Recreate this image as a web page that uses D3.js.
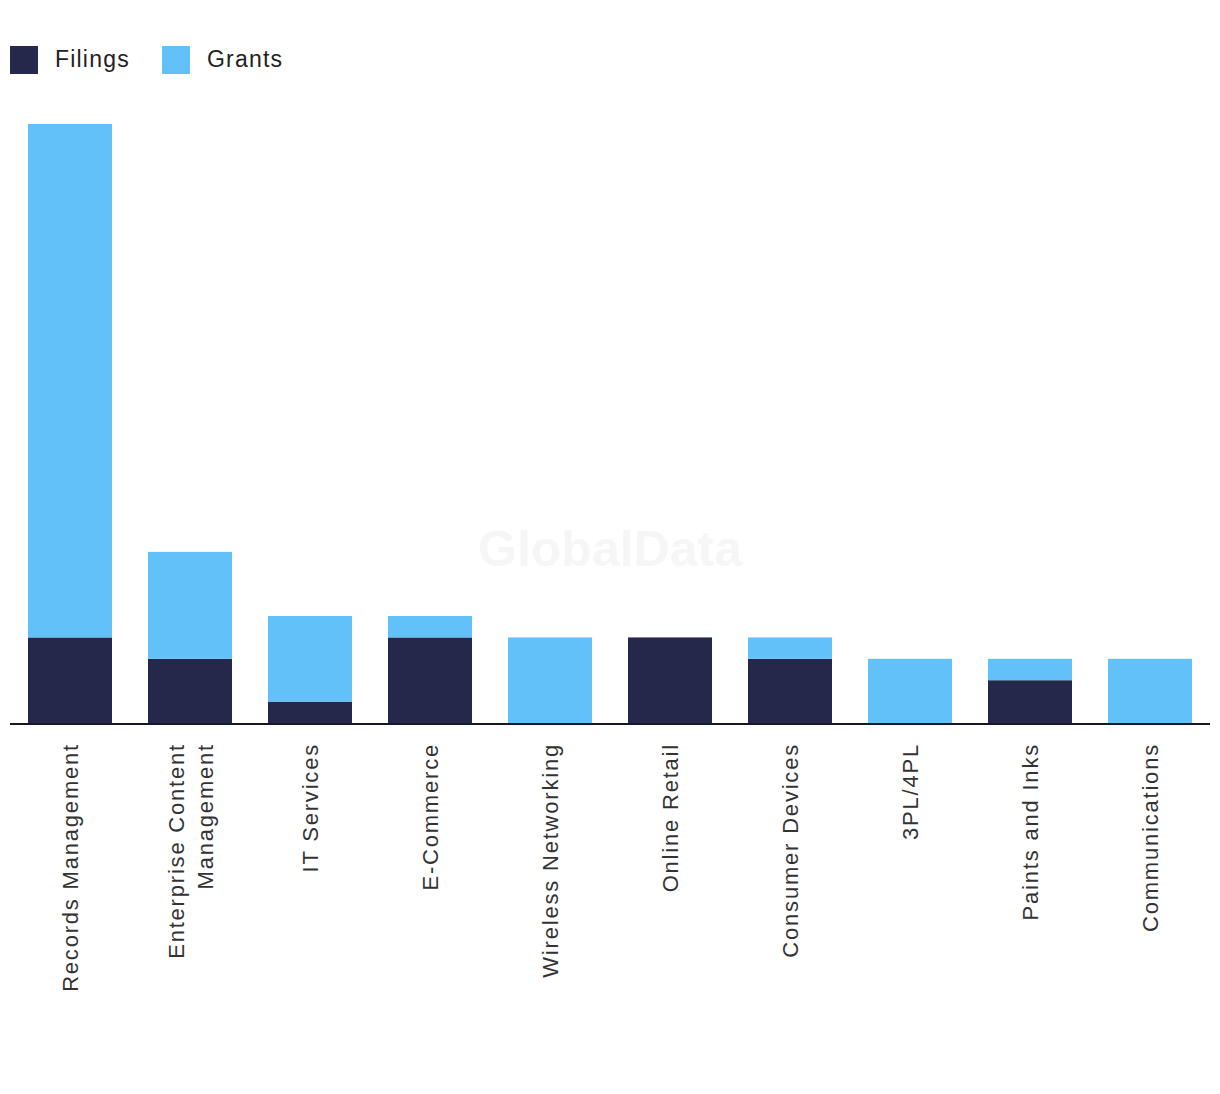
<!DOCTYPE html>
<html>
<head>
<meta charset="utf-8">
<script src="https://cdn.jsdelivr.net/npm/d3@7"></script>
<style>
body { margin: 0; background: #fff; }
text { font-family: "Liberation Sans", Arial, sans-serif; }
</style>
</head>
<body>
<script>
// categories and stacked values
var categories = [
    ["Records Management"],
    ["Enterprise Content", "Management"],
    ["IT Services"],
    ["E-Commerce"],
    ["Wireless Networking"],
    ["Online Retail"],
    ["Consumer Devices"],
    ["3PL/4PL"],
    ["Paints and Inks"],
    ["Communications"]
];
var filings = [4, 3, 1, 4, 0, 4, 3, 0, 2, 0];
var grants = [24, 5, 4, 1, 4, 0, 1, 3, 1, 3];
var seriesNames = ["Filings", "Grants"];
var colors = ["#26284b", "#62c1f8"];

var width = 1220, height = 1094;

var svg = d3.select("body").append("svg")
    .attr("width", width)
    .attr("height", height);

// watermark
svg.append("text")
    .attr("x", 610).attr("y", 566)
    .attr("text-anchor", "middle")
    .style("font-size", "50px")
    .style("font-weight", "bold")
    .style("fill", "#f6f6f6")
    .text("GlobalData");

var keys = categories.map(function(c){ return c.join(" "); });
var rows = keys.map(function(k, i){
    return {key: k, Filings: filings[i], Grants: grants[i]};
});

var x = d3.scaleBand()
    .domain(keys)
    .range([10, 1210])
    .paddingInner(0.3)
    .paddingOuter(0.15);

var y = d3.scaleLinear()
    .domain([0, 28])
    .range([723, 124]);

var stack = d3.stack().keys(seriesNames)(rows);

svg.selectAll(".series")
    .data(stack)
    .enter()
    .append("g")
    .attr("fill", function(d, i){ return colors[i]; })
    .selectAll("rect")
    .data(function(d){ return d; })
    .enter()
    .append("rect")
    .attr("x", function(d){ return x(d.data.key); })
    .attr("width", x.bandwidth())
    .attr("y", function(d){ return y(d[1]); })
    .attr("height", function(d){ return y(d[0]) - y(d[1]); });

// baseline
svg.append("line")
    .attr("x1", 10).attr("x2", 1210)
    .attr("y1", y(0) + 1).attr("y2", y(0) + 1)
    .attr("stroke", "#16172a")
    .attr("stroke-width", 2);

// rotated category labels
var labels = svg.selectAll(".xlabel")
    .data(categories)
    .enter()
    .append("text")
    .attr("class", "xlabel")
    .attr("transform", function(d, i){
        var cx = x(keys[i]) + x.bandwidth() / 2;
        return "translate(" + cx + ",743) rotate(-90)";
    })
    .attr("text-anchor", "end")
    .style("font-size", "22px")
    .style("letter-spacing", "1.8px")
    .style("fill", "#333");

labels.selectAll("tspan")
    .data(function(d){ return d.map(function(t, j){ return {t: t, j: j, n: d.length}; }); })
    .enter()
    .append("tspan")
    .attr("x", 0)
    .attr("y", function(d){ return (d.j - (d.n - 1) / 2) * 29 + 8; })
    .text(function(d){ return d.t; });

// legend
var legend = svg.selectAll(".legend")
    .data(seriesNames)
    .enter()
    .append("g")
    .attr("transform", function(d, i){ return "translate(" + (10 + i * 152) + ",46)"; });

legend.append("rect")
    .attr("width", 28).attr("height", 28)
    .attr("fill", function(d, i){ return colors[i]; });

legend.append("text")
    .attr("x", 45).attr("y", 21)
    .style("font-size", "23px")
    .style("letter-spacing", "1.2px")
    .style("fill", "#222")
    .text(function(d){ return d; });
</script>
</body>
</html>
